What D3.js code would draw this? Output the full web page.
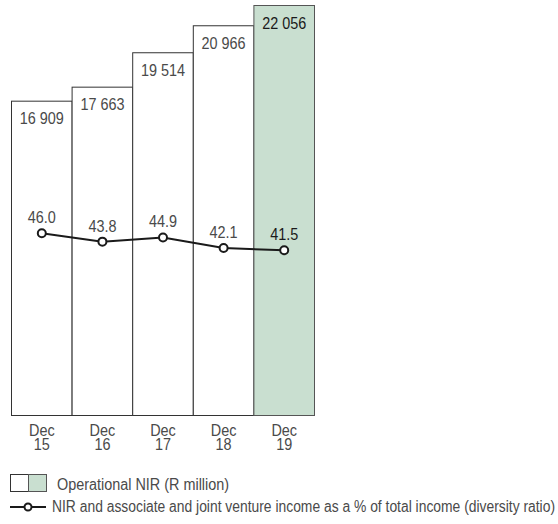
<!DOCTYPE html>
<html><head><meta charset="utf-8">
<script src="https://cdn.jsdelivr.net/npm/d3@7"></script>
<style>
body{margin:0;background:#fff;}
text{font-family:"Liberation Sans",Arial,sans-serif;}
</style></head>
<body><svg id="c" width="558" height="524"></svg>
<script>
const categories = ["Dec 15","Dec 16","Dec 17","Dec 18","Dec 19"];
const nirValues = [16909, 17663, 19514, 20966, 22056];
const nirLabels = ["16 909","17 663","19 514","20 966","22 056"];
const ratioValues = [46.0, 43.8, 44.9, 42.1, 41.5];
const ratioLabels = ["46.0","43.8","44.9","42.1","41.5"];
const legendLabels = ["Operational NIR (R million)","NIR and associate and joint venture income as a % of total income (diversity ratio)"];

const svg = d3.select("#c");
const fs = 16;
const K = 0.9; // horizontal condense factor
const x = d3.scaleBand().domain(categories).range([11.5, 314.5]).padding(0);
const y = d3.scaleLinear().domain([0, 22056]).range([415.5, 5.5]);
const y2 = d3.scaleLinear().domain([0, 100]).range([407.2, 29.2]);
const grey = "#4a4a4a";
const green = "#c9dfd0";
const cx = c => x(c) + x.bandwidth()/2;

function ctext(parent, tx, ty, str, anchor, color){
  const t = parent.append("text").attr("x",tx).attr("y",ty).attr("text-anchor",anchor)
    .attr("font-size",fs).attr("fill",color).text(str);
  const w = t.node().getComputedTextLength();
  t.attr("textLength", w*K).attr("lengthAdjust","spacingAndGlyphs");
  return t;
}

const last = categories.length - 1;
svg.selectAll("rect.bar").data(nirValues).join("rect")
  .attr("class","bar")
  .attr("x",(d,i)=>x(categories[i]))
  .attr("y",d=>y(d))
  .attr("width",x.bandwidth())
  .attr("height",d=>y(0)-y(d))
  .attr("fill",(d,i)=>i===last?green:"#fff")
  .attr("stroke",(d,i)=>i===last?"#555":"#333")
  .attr("stroke-width",1);

const labG = svg.append("g");
nirValues.forEach((d,i)=>{
  ctext(labG, cx(categories[i]), y(d)+23, nirLabels[i], "middle", i===last?"#1a1a1a":grey);
});

const line = d3.line().x((d,i)=>cx(categories[i])).y(d=>y2(d));
svg.append("path").datum(ratioValues).attr("d",line)
  .attr("fill","none").attr("stroke","#1a1a1a").attr("stroke-width",2);
svg.selectAll("circle.pt").data(ratioValues).join("circle")
  .attr("class","pt")
  .attr("cx",(d,i)=>cx(categories[i]))
  .attr("cy",d=>y2(d)).attr("r",4)
  .attr("fill","#fff").attr("stroke","#1a1a1a").attr("stroke-width",2);
ratioValues.forEach((d,i)=>{
  ctext(labG, cx(categories[i]), y2(d)-10, ratioLabels[i], "middle", i===last?"#1a1a1a":grey);
});

// x axis labels
categories.forEach(c=>{
  const parts = c.split(" ");
  ctext(labG, cx(c), 436, parts[0], "middle", grey);
  ctext(labG, cx(c), 449.5, parts[1], "middle", grey);
});

// legend
const lg = svg.append("g");
lg.append("rect").attr("x",10.5).attr("y",474.5).attr("width",18).attr("height",17).attr("fill","#fff").attr("stroke","#333");
lg.append("rect").attr("x",28.5).attr("y",474.5).attr("width",18).attr("height",17).attr("fill",green).attr("stroke","#555");
ctext(lg, 57, 490, legendLabels[0], "start", grey);
lg.append("line").attr("x1",10).attr("x2",46).attr("y1",507).attr("y2",507).attr("stroke","#1a1a1a").attr("stroke-width",2);
lg.append("circle").attr("cx",28).attr("cy",507).attr("r",3.5).attr("fill","#fff").attr("stroke","#1a1a1a").attr("stroke-width",2);
const t2 = ctext(lg, 52, 512, legendLabels[1], "start", grey);
if (+t2.attr("textLength") > 503) t2.attr("textLength", 503);
</script></body></html>
